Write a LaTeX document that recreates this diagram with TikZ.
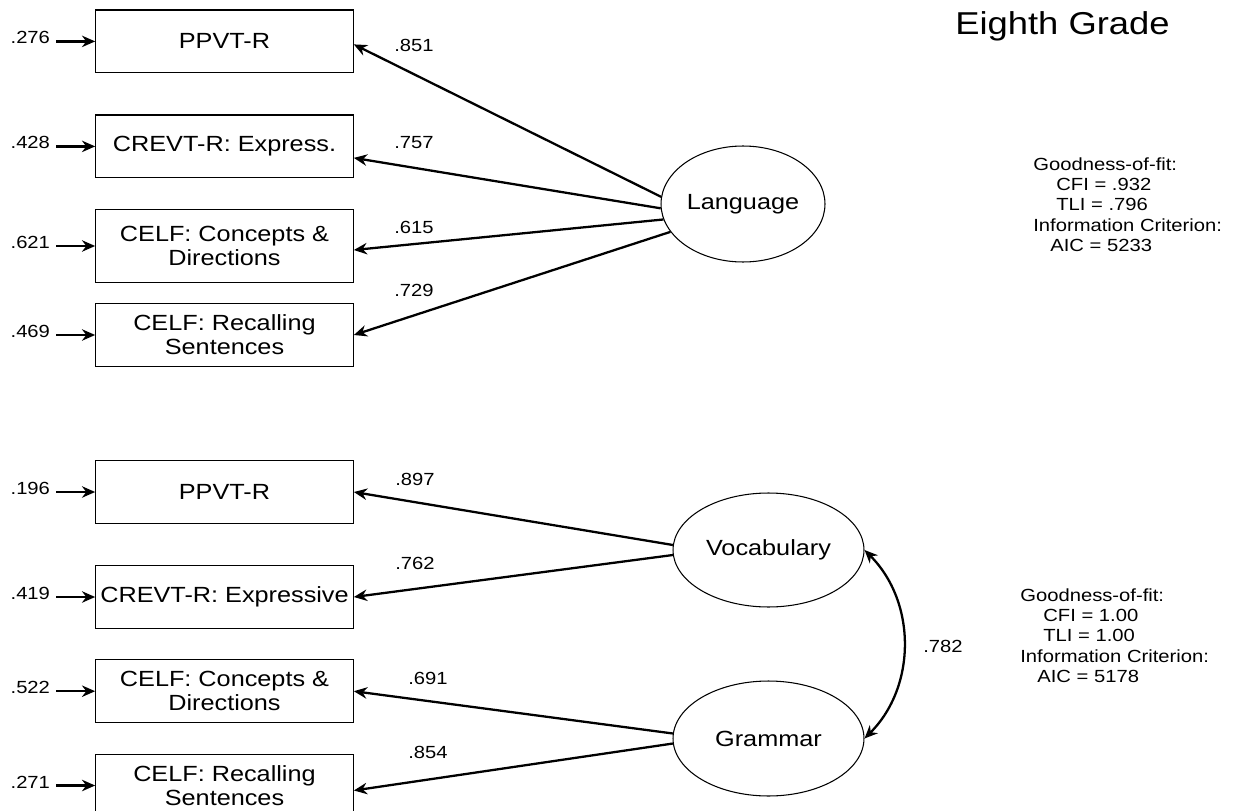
\documentclass[tikz,border=0pt]{standalone}
\usepackage{fontspec}
\setmainfont[FakeStretch=1.15]{Liberation Sans}
\usetikzlibrary{shapes,arrows.meta,positioning}

\begin{document}
\begin{tikzpicture}[
    x=0.02cm, y=-0.02cm,
    node distance = 0.78cm,
    every node/.style = {align=center},
    load/.style = {draw, line width=1.3pt, -{Stealth[length=7.5pt,width=6.5pt]}},
    covar/.style = {draw, line width=1.3pt, {Stealth[length=7.5pt,width=6.5pt]}-{Stealth[length=7.5pt,width=6.5pt]}},
    obs/.style = {draw, line width=0.7pt, minimum width=5.15cm, minimum height=1.254cm,
                  inner sep=1pt, font=\fontsize{12.5}{13.8}\selectfont},
    lat/.style = {draw, ellipse, line width=0.6pt, inner sep=0pt,
                  font=\fontsize{12.5}{15}\selectfont},
    coef/.style = {font=\fontsize{10}{12}\selectfont},
    err/.style = {coef, yshift=0.07cm},
    gof/.style = {anchor=north west, align=left, inner sep=0pt,
                  font=\fontsize{10}{11.6}\selectfont}
  ]
  \useasboundingbox (0,0) rectangle (1251,811);

  \node[anchor=base west, inner sep=0pt, font=\fontsize{18}{20}\selectfont] (title) at (955,35) {Eighth Grade};

  % one factor
  \node[obs] (A1) at (224.5,41.4) {PPVT-R};
  \node[obs] (A2) at (224.5,146.4) {CREVT-R: Express.};
  \node[obs, minimum height=1.468cm] (A3) at (224.5,246) {CELF: Concepts \&\\ Directions};
  \node[obs] (A4) at (224.5,335) {CELF: Recalling\\ Sentences};
  \node[lat, minimum width=3.28cm, minimum height=2.32cm] (L) at (743,204) {Language};

  \node[err, left=of A1] (eA1) {.276};
  \node[err, left=of A2] (eA2) {.428};
  \node[err, left=of A3] (eA3) {.621};
  \node[err, left=of A4] (eA4) {.469};

  \node[coef] (cA1) at (414,45) {.851};
  \node[coef] (cA2) at (414,143) {.757};
  \node[coef] (cA3) at (414,227) {.615};
  \node[coef] (cA4) at (414,290) {.729};

  \node[gof] (gofA) at (1033,157) {Goodness-of-fit:\\\hspace*{0.46cm}CFI = .932\\\hspace*{0.46cm}TLI = .796\\Information Criterion:\\\hspace*{0.34cm}AIC = 5233};

  \path (eA1.east |- A1) edge[load] (A1)
        (eA2.east |- A2) edge[load] (A2)
        (eA3.east |- A3) edge[load] (A3)
        (eA4.east |- A4) edge[load] (A4)
        (L.175) edge[load] ([yshift=-0.06cm]A1.east)
        (L.183) edge[load] ([yshift=-0.23cm]A2.east)
        (L.191) edge[load] ([yshift=-0.08cm]A3.east)
        (L.201) edge[load] (A4.east);

  % two factors
  \node[obs] (B1) at (224.5,492) {PPVT-R};
  \node[obs] (B2) at (224.5,597) {CREVT-R: Expressive};
  \node[obs] (B3) at (224.5,691.2) {CELF: Concepts \&\\ Directions};
  \node[obs] (B4) at (224.5,785.5) {CELF: Recalling\\ Sentences};
  \node[lat, minimum width=3.82cm, minimum height=2.28cm] (V) at (768.5,550) {Vocabulary};
  \node[lat, minimum width=3.82cm, minimum height=2.3cm] (G) at (768.5,738.5) {Grammar};

  \node[err, left=of B1] (eB1) {.196};
  \node[err, left=of B2] (eB2) {.419};
  \node[err, left=of B3] (eB3) {.522};
  \node[err, left=of B4] (eB4) {.271};

  \node[coef] (cB1) at (415,479) {.897};
  \node[coef] (cB2) at (415,563) {.762};
  \node[coef] (cB3) at (428,678) {.691};
  \node[coef] (cB4) at (428,752) {.854};
  \node[coef] (cVG) at (943,646) {.782};

  \node[gof] (gofB) at (1020,588) {Goodness-of-fit:\\\hspace*{0.46cm}CFI = 1.00\\\hspace*{0.46cm}TLI = 1.00\\Information Criterion:\\\hspace*{0.34cm}AIC = 5178};

  \path (eB1.east |- B1) edge[load] (B1)
        (eB2.east |- B2) edge[load] (B2)
        (eB3.east |- B3) edge[load] (B3)
        (eB4.east |- B4) edge[load] (B4)
        (V.177) edge[load] (B1.east)
        (V.183) edge[load] (B2.east)
        (G.177) edge[load] (B3.east)
        (G.183) edge[load] ([yshift=-0.1cm]B4.east)
        (V.east) edge[covar, bend left=45] (G.east);

\end{tikzpicture}
\end{document}
